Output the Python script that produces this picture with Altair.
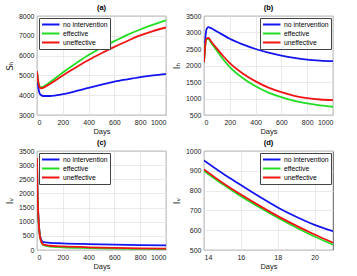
import altair as alt
import pandas as pd

SERIES = ["no intervention", "effective", "uneffective"]
COLORS = ["#1414f0", "#22dd22", "#f01414"]

# (a) susceptible humans S_h
days_a = [0, 10, 20, 30, 50, 100, 200, 300, 400, 500, 600, 700, 800, 900, 1000]
sh_none = [5200, 4400, 4100, 4010, 3960, 3960, 4050, 4200, 4370, 4530, 4680, 4800, 4910, 5000, 5060]
sh_eff = [5200, 4700, 4450, 4400, 4430, 4650, 5150, 5600, 6030, 6400, 6730, 7050, 7320, 7560, 7780]
sh_uneff = [5200, 4650, 4400, 4340, 4380, 4570, 5000, 5400, 5780, 6120, 6440, 6740, 7020, 7240, 7420]

# (b) infected humans I_h
days_b = [0, 10, 20, 35, 50, 100, 150, 200, 300, 400, 500, 600, 700, 800, 900, 1000]
ih_none = [2100, 2800, 3100, 3160, 3140, 3030, 2920, 2810, 2640, 2500, 2390, 2300, 2230, 2180, 2150, 2130]
ih_eff = [2100, 2600, 2800, 2810, 2720, 2450, 2180, 1950, 1620, 1370, 1180, 1040, 930, 850, 790, 750]
ih_uneff = [2100, 2620, 2820, 2840, 2760, 2510, 2280, 2070, 1760, 1520, 1330, 1190, 1080, 1010, 970, 950]

# (c) infected vectors I_v
days_c = [0, 3, 7, 14, 21, 30, 40, 50, 100, 200, 400, 600, 800, 1000]
iv_none = [3250, 2300, 1600, 950, 590, 400, 310, 275, 255, 235, 210, 190, 175, 165]
iv_eff = [3250, 2250, 1550, 900, 525, 320, 220, 170, 120, 95, 70, 50, 40, 30]
iv_uneff = [3250, 2260, 1560, 905, 535, 335, 240, 190, 150, 125, 95, 75, 60, 50]

# (d) I_v over days 14-21
days_d = [14, 15, 16, 17, 18, 19, 20, 21]
ivd_none = [952, 887, 828, 770, 715, 668, 627, 595]
ivd_eff = [900, 833, 772, 716, 663, 614, 568, 527]
ivd_uneff = [907, 840, 780, 724, 671, 623, 578, 537]

W, H = 129, 99
FONT = "Liberation Sans"


def frame(days, a, b, c):
    rows = []
    for name, vals in zip(SERIES, [a, b, c]):
        rows += [{"day": d, "val": v, "series": name} for d, v in zip(days, vals)]
    return pd.DataFrame(rows)


def panel(df, title, ytitle, xdom, xticks, ydom, yticks, legend_orient):
    color = alt.Color(
        "series:N",
        scale=alt.Scale(domain=SERIES, range=COLORS),
        legend=alt.Legend(
            title=None,
            orient=legend_orient,
            offset=2,
            # short horizontal stroke, wider than the row height
            symbolType="M-1,0H4",
            symbolSize=49,
            symbolStrokeWidth=2,
            labelFontSize=6.8,
            labelFont=FONT,
            labelOffset=13,
            rowPadding=0,
            padding=2,
            strokeColor="#444",
            fillColor="white",
            cornerRadius=0,
        ),
    )
    layers = []
    for name in SERIES:
        layers.append(
            alt.Chart(df)
            .transform_filter(alt.datum.series == name)
            .mark_line(strokeWidth=1.8, interpolate="monotone", clip=True)
            .encode(
                x=alt.X("day:Q", scale=alt.Scale(domain=xdom, nice=False, zero=False),
                        axis=alt.Axis(values=xticks, title="Days", format="d")),
                y=alt.Y("val:Q", scale=alt.Scale(domain=ydom, nice=False, zero=False),
                        axis=alt.Axis(values=yticks, title=ytitle, format="d",
                                      titleFontSize=9, titleFont="DejaVu Sans")),
                color=color,
            )
        )
    return alt.layer(*layers).properties(
        width=W, height=H,
        title=alt.TitleParams(title, fontSize=7.5, fontWeight="bold", font=FONT, offset=1),
    )


pa = panel(frame(days_a, sh_none, sh_eff, sh_uneff), "(a)", "Sₕ",
           [0, 1000], [0, 200, 400, 600, 800, 1000], [3000, 8000],
           [3000, 4000, 5000, 6000, 7000, 8000], "top-left")
pb = panel(frame(days_b, ih_none, ih_eff, ih_uneff), "(b)", "Iₕ",
           [0, 1000], [0, 200, 400, 600, 800, 1000], [500, 3500],
           [500, 1000, 1500, 2000, 2500, 3000, 3500], "top-right")
pc = panel(frame(days_c, iv_none, iv_eff, iv_uneff), "(c)", "Iᵥ",
           [0, 1000], [0, 200, 400, 600, 800, 1000], [0, 3500],
           [0, 500, 1000, 1500, 2000, 2500, 3000, 3500], "top-left")
pd_ = panel(frame(days_d, ivd_none, ivd_eff, ivd_uneff), "(d)", "Iᵥ",
            [14, 21], [14, 16, 18, 20], [500, 1000],
            [500, 600, 700, 800, 900, 1000], "top-right")

chart = (
    alt.vconcat(
        alt.hconcat(pa, pb, spacing=5),
        alt.hconcat(pc, pd_, spacing=5),
        spacing=3,
    )
    .resolve_scale(color="independent")
    .properties(padding={"left": 5, "top": 3, "right": 12, "bottom": 2}, background="white")
    .configure_view(stroke="#333", strokeWidth=0.8)
    .configure_axis(
        labelFont=FONT, titleFont=FONT, labelFontSize=7, titleFontSize=7.5,
        labelColor="#222", titleColor="#222", titleFontWeight="normal",
        grid=True, gridColor="#e4e4e4", gridWidth=0.8,
        domain=False, ticks=False, labelPadding=3, titlePadding=2,
    )
    .configure_axisY(titlePadding=4)
    .configure_concat(spacing=5)
)

chart.save("out.html", embed_options={"renderer": "svg", "actions": False})
